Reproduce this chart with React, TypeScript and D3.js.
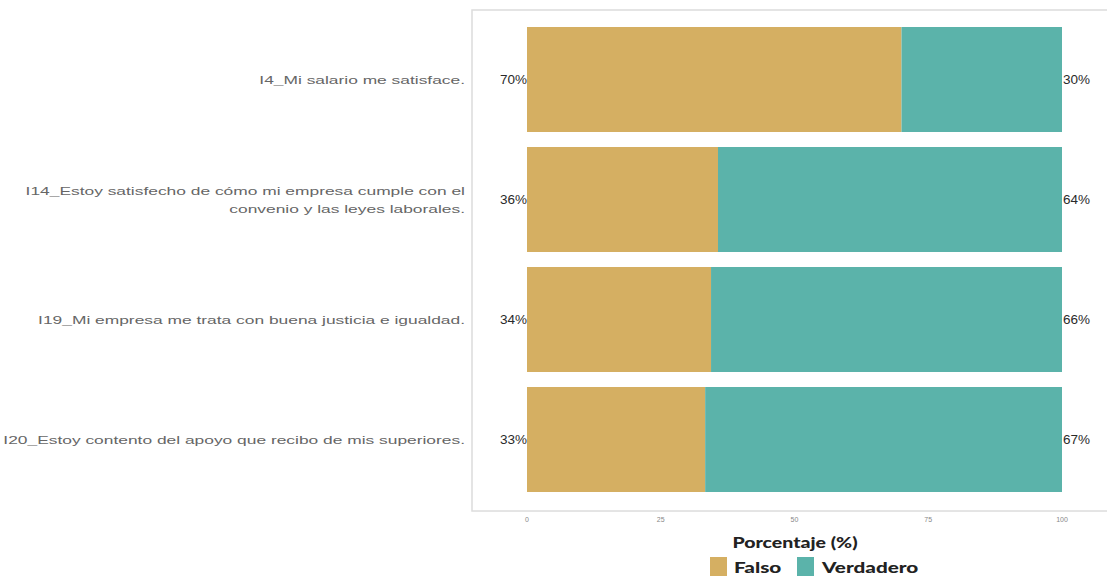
import React from "react";
import * as d3 from "d3";

const categories = [
  ["I4_Mi salario me satisface."],
  ["I14_Estoy satisfecho de cómo mi empresa cumple con el", "convenio y las leyes laborales."],
  ["I19_Mi empresa me trata con buena justicia e igualdad."],
  ["I20_Estoy contento del apoyo que recibo de mis superiores."],
];
const falso = [70, 35.7, 34.4, 33.3];
const verdadero = falso.map((v) => 100 - v);
const xTicks = [0, 25, 50, 75, 100];
const seriesNames = ["Falso", "Verdadero"];
const colors = ["#D5AF62", "#5BB3AA"];

export default function App() {
  const W = 1107, H = 580;
  const x = d3.scaleLinear().domain([0, 100]).range([527, 1062]);
  const y = d3.scaleBand<number>().domain(d3.range(categories.length)).range([27, 492]).paddingInner(0.125).paddingOuter(0);
  const panel = { x0: 472, y0: 10, x1: 1120, y1: 511 };
  const boldFont = "Lato, sans-serif";
  return (
    <svg width={W} height={H} style={{ position: "absolute", left: 0, top: 0, background: "#fff" }}>
      <rect x={panel.x0} y={panel.y0} width={panel.x1 - panel.x0} height={panel.y1 - panel.y0} fill="#fff" stroke="#dcdcdc" strokeWidth={1.5} />
      {categories.map((lines, i) => {
        const y0 = y(i)!;
        const bw = y.bandwidth();
        const cy = y0 + bw / 2;
        return (
          <g key={i}>
            <rect x={x(0)} y={y0} width={x(falso[i]) - x(0)} height={bw} fill={colors[0]} />
            <rect x={x(falso[i])} y={y0} width={x(100) - x(falso[i])} height={bw} fill={colors[1]} />
            <text x={x(0)} y={cy} dy="0.35em" textAnchor="end" fontFamily="Liberation Sans, Arial, sans-serif" fontSize={13.5} fill="#2a2a2a">
              {Math.round(falso[i])}%
            </text>
            <text x={x(100) + 1} y={cy} dy="0.35em" textAnchor="start" fontFamily="Liberation Sans, Arial, sans-serif" fontSize={13.5} fill="#2a2a2a">
              {Math.round(verdadero[i])}%
            </text>
            {lines.map((ln, j) => (
              <text key={j} transform={`translate(465,${cy + (j - (lines.length - 1) / 2) * 18}) scale(1.5,1)`} dy="0.35em" textAnchor="end" fontFamily="Liberation Sans, Arial, sans-serif" fontSize={11.6} fill="#666">
                {ln}
              </text>
            ))}
          </g>
        );
      })}
      {xTicks.map((t) => (
        <text key={t} x={x(t)} y={522} textAnchor="middle" fontFamily="Liberation Sans, Arial, sans-serif" fontSize={7} fill="#888">
          {t}
        </text>
      ))}
      <text transform="translate(795,548) scale(1.3,1)" textAnchor="middle" fontFamily={boldFont} fontWeight={900} fontSize={15} fill="#222">
        Porcentaje (%)
      </text>
      <g>
        <rect x={710} y={557} width={17} height={19} fill={colors[0]} />
        <text transform="translate(734,573) scale(1.38,1)" fontFamily={boldFont} fontWeight={900} fontSize={15} fill="#222">{seriesNames[0]}</text>
        <rect x={797} y={557} width={17} height={19} fill={colors[1]} />
        <text transform="translate(822,573) scale(1.38,1)" fontFamily={boldFont} fontWeight={900} fontSize={15} fill="#222">{seriesNames[1]}</text>
      </g>
    </svg>
  );
}
